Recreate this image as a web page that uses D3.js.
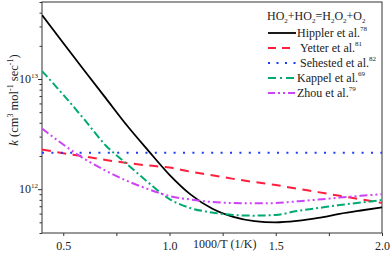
<!DOCTYPE html>
<html>
<head>
<meta charset="utf-8">
<script src="https://cdn.jsdelivr.net/npm/d3@7"></script>
<style>
body { margin: 0; background: #fff; }
</style>
</head>
<body>
<div id="chart"></div>
<script>
var ctx = {
    w: 392,
    h: 255,
    font: "Liberation Serif"
};

// 1000/T grid
var invT = [0.4, 0.5, 0.6, 0.7, 0.8, 0.9, 1.0, 1.1, 1.2, 1.3, 1.4, 1.5, 1.6, 1.7, 1.8, 1.9, 2.0];

// rate constants k (cm3 mol-1 sec-1)
var hippler = [3.8e13, 2.12e13, 1.19e13, 6.7e12, 3.78e12, 2.24e12, 1.35e12, 8.92e11, 6.67e11, 5.6e11, 5.12e11, 4.99e11, 5.15e11, 5.48e11, 5.96e11, 6.4e11, 6.84e11];
var yetter = [2.29e12, 2.12e12, 1.98e12, 1.84e12, 1.73e12, 1.64e12, 1.57e12, 1.44e12, 1.34e12, 1.24e12, 1.16e12, 1.09e12, 1.01e12, 9.4e11, 8.7e11, 8.1e11, 7.5e11];
var sehested = [2.14e12, 2.14e12, 2.14e12, 2.14e12, 2.14e12, 2.14e12, 2.14e12, 2.14e12, 2.14e12, 2.14e12, 2.14e12, 2.14e12, 2.14e12, 2.14e12, 2.14e12, 2.14e12, 2.14e12];
var kappel = [1.18e13, 7.2e12, 4.27e12, 2.49e12, 1.69e12, 1.15e12, 8.13e11, 6.72e11, 6.14e11, 5.83e11, 5.75e11, 5.83e11, 6.33e11, 6.74e11, 7.17e11, 7.55e11, 7.96e11];
var zhou = [3.55e12, 2.54e12, 1.88e12, 1.47e12, 1.19e12, 1.0e12, 8.65e11, 8.04e11, 7.64e11, 7.48e11, 7.43e11, 7.48e11, 7.75e11, 8.04e11, 8.38e11, 8.7e11, 9.0e11];

var names = ["Hippler et al.", "Yetter et al.", "Sehested et al.", "Kappel et al.", "Zhou et al."];
var refs = ["78", "81", "82", "69", "79"];
var xTicks = [0.5, 1.0, 1.5, 2.0];

var addText = function (sel, size) {
    return sel.append("text")
        .style("font-family", ctx.font)
        .attr("fill", "#222")
        .attr("font-size", size);
};

var createChart = function (svg) {
    var m = { l: 42, r: 382, t: 2, b: 233 };
    var series = [hippler, yetter, sehested, kappel, zhou];
    var colors = ["#000000", "#ff1f3d", "#1a3cff", "#00aa72", "#cc44f5"];
    var dashes = [null, "9,6.5", "2,7.4", "8,3,2,3", "8,3,2,3,2,3"];
    var legDashes = [null, "8,6", "2,6.5", "8,4,2,4", "7,3,2,3,2,3"];
    var widths = [1.8, 2, 2, 2, 2];

    var x = d3.scaleLinear().domain([0.4, 2.0]).range([m.l, m.r]);
    var y = d3.scaleLog().domain([4e11, 5e13]).range([m.b, m.t]);

    svg.append("defs").append("clipPath").attr("id", "clip")
        .append("rect")
        .attr("x", m.l).attr("y", m.t)
        .attr("width", m.r - m.l).attr("height", m.b - m.t);

    // x axis
    var xAxis = svg.append("g")
        .attr("transform", "translate(0," + m.b + ")")
        .call(d3.axisBottom(x).tickValues(d3.range(0.5, 2.01, 0.25)).tickSize(3).tickFormat(function (d) {
            return xTicks.indexOf(d) >= 0 ? d3.format(".1f")(d) : "";
        }));
    xAxis.select(".domain").remove();
    xAxis.attr("font-size", 12);
    xAxis.selectAll("text")
        .style("font-family", ctx.font)
        .attr("dy", "0.95em")
        .attr("fill", "#222");
    xAxis.selectAll("line").attr("stroke", "#333");

    // y axis
    var yAxis = svg.append("g")
        .attr("transform", "translate(" + m.l + ",0)")
        .call(d3.axisLeft(y).tickValues(y.ticks()).tickSize(3).tickFormat(""));
    yAxis.select(".domain").remove();
    yAxis.selectAll(".tick line")
        .attr("stroke", "#333")
        .attr("x2", function (d) {
            return (Math.abs(Math.log10(d) - Math.round(Math.log10(d))) < 1e-6) ? -4 : -2.5;
        });

    [1e12, 1e13].forEach(function (v) {
        var t = addText(svg, 12)
            .attr("x", 38)
            .attr("y", y(v) + 4)
            .attr("text-anchor", "end");
        t.append("tspan").text("10");
        t.append("tspan").attr("dy", -5).attr("font-size", 7).text(Math.log10(v));
    });

    // frame
    svg.append("rect")
        .attr("x", m.l).attr("y", m.t)
        .attr("width", m.r - m.l).attr("height", m.b - m.t)
        .attr("fill", "none")
        .attr("stroke", "#333")
        .attr("stroke-width", 1);

    // curves
    var line = d3.line()
        .curve(d3.curveMonotoneX)
        .x(function (d) { return x(d[0]); })
        .y(function (d) { return y(d[1]); });

    var plot = svg.append("g").attr("clip-path", "url(#clip)");
    series.forEach(function (s, i) {
        var pts = invT.map(function (t, j) { return [t, s[j]]; });
        plot.append("path")
            .attr("d", line(pts))
            .attr("fill", "none")
            .attr("stroke", colors[i])
            .attr("stroke-width", widths[i])
            .attr("stroke-dasharray", dashes[i]);
    });

    // axis titles
    addText(svg, 12)
        .attr("x", 193)
        .attr("y", 248)
        .text("1000/T (1/K)");

    var yl = addText(svg, 12.5)
        .attr("transform", "translate(18,100) rotate(-90)")
        .attr("text-anchor", "middle");
    yl.append("tspan").attr("font-style", "italic").text("k");
    yl.append("tspan").text(" (cm");
    yl.append("tspan").attr("dy", -5).attr("font-size", 8).text("3");
    yl.append("tspan").attr("dy", 5).text(" mol");
    yl.append("tspan").attr("dy", -5).attr("font-size", 8).text("-1");
    yl.append("tspan").attr("dy", 5).text(" sec");
    yl.append("tspan").attr("dy", -5).attr("font-size", 8).text("-1");
    yl.append("tspan").attr("dy", 5).text(")");

    // legend title with subscripts
    var title = addText(svg, 12)
        .attr("x", 267)
        .attr("y", 20);
    [["HO", "2"], ["+HO", "2"], ["=H", "2"], ["O", "2"], ["+O", "2"]].forEach(function (p, i) {
        title.append("tspan").attr("dy", i == 0 ? 0 : -3).text(p[0]);
        title.append("tspan").attr("dy", 3).attr("font-size", 7).text(p[1]);
    });

    var leg = svg.append("g");
    names.forEach(function (n, i) {
        var ly = 33 + i * 15;
        leg.append("line")
            .attr("x1", 268).attr("x2", 296)
            .attr("y1", ly).attr("y2", ly)
            .attr("stroke", colors[i])
            .attr("stroke-width", widths[i])
            .attr("stroke-dasharray", legDashes[i]);
        var t = addText(leg, 12)
            .attr("x", i == 0 || i == 3 || i == 4 ? 297 : 300)
            .attr("y", ly + 4);
        t.append("tspan").text(n);
        t.append("tspan").attr("dy", -6).attr("font-size", 7).text(refs[i]);
    });
};

var createViz = function () {
    var svg = d3.select("#chart").append("svg")
        .attr("width", ctx.w)
        .attr("height", ctx.h);
    createChart(svg);
};

createViz();
</script>
</body>
</html>
